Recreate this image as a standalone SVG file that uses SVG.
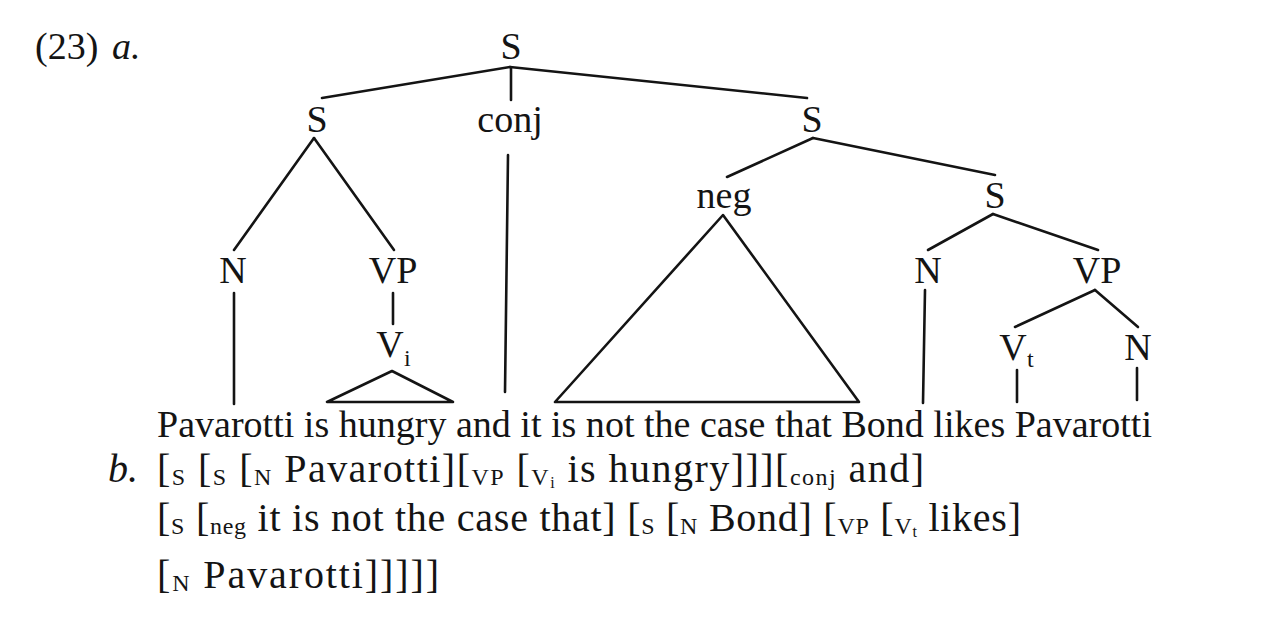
<svg xmlns="http://www.w3.org/2000/svg" width="1272" height="626" viewBox="0 0 1272 626">
<style>
text{font-family:"Liberation Serif","Times New Roman",serif;fill:#141414}
.lab{font-size:38px;text-anchor:middle}
.sen{font-size:38px}
.b{font-size:40px}
.sub{font-size:24px}
.ss{font-size:16px}
.it{font-style:italic}
.e{stroke:#141414;stroke-width:2.6;fill:none;stroke-linecap:round;stroke-linejoin:round}
</style>
<rect width="1272" height="626" fill="#ffffff"/>
<text class="lab" x="35" y="59" style="text-anchor:start">(23)</text>
<text class="lab it" x="112" y="59" style="text-anchor:start">a.</text>
<g id="connectors">
<line class="e" x1="510" y1="67" x2="322" y2="98"/>
<line class="e" x1="510" y1="67" x2="807" y2="98"/>
<line class="e" x1="511" y1="68" x2="511" y2="100"/>
<line class="e" x1="508" y1="155" x2="505" y2="392"/>
<line class="e" x1="314" y1="138" x2="234" y2="250"/>
<line class="e" x1="314" y1="138" x2="394" y2="250"/>
<line class="e" x1="234" y1="293" x2="234" y2="404"/>
<line class="e" x1="393" y1="293" x2="393" y2="324"/>
<polygon class="e" points="392,371 327,402 453,402"/>
<line class="e" x1="813" y1="138" x2="727" y2="177"/>
<line class="e" x1="813" y1="138" x2="995" y2="175"/>
<polygon class="e" points="723,215 555,402 859,402"/>
<line class="e" x1="993" y1="214" x2="928" y2="250"/>
<line class="e" x1="993" y1="214" x2="1098" y2="250"/>
<line class="e" x1="925" y1="290" x2="923" y2="403"/>
<line class="e" x1="1095" y1="290" x2="1015" y2="327"/>
<line class="e" x1="1095" y1="290" x2="1138" y2="327"/>
<line class="e" x1="1017" y1="370" x2="1017" y2="402"/>
<line class="e" x1="1137" y1="368" x2="1137" y2="400"/>
</g>
<g id="n-S-top"><text class="lab" x="511" y="59">S</text></g>
<g id="n-S-left"><text class="lab" x="317" y="132">S</text></g>
<g id="n-conj"><text class="lab" x="510" y="132">conj</text></g>
<g id="n-S-right"><text class="lab" x="812" y="132">S</text></g>
<g id="n-N1"><text class="lab" x="233" y="283">N</text></g>
<g id="n-VP1"><text class="lab" x="393" y="283">VP</text></g>
<g id="n-Vi"><text class="lab" x="390" y="357">V</text><text class="sub" x="404" y="366">i</text></g>
<g id="n-neg"><text class="lab" x="724" y="208">neg</text></g>
<g id="n-S-low"><text class="lab" x="995" y="208">S</text></g>
<g id="n-N2"><text class="lab" x="928" y="283">N</text></g>
<g id="n-VP2"><text class="lab" x="1097" y="283">VP</text></g>
<g id="n-Vt"><text class="lab" x="1013" y="360">V</text><text class="sub" x="1027" y="367">t</text></g>
<g id="n-N3"><text class="lab" x="1138" y="360">N</text></g>
<text class="sen" x="157" y="437" textLength="995" lengthAdjust="spacing">Pavarotti is hungry and it is not the case that Bond likes Pavarotti</text>
<text class="b it" x="108" y="482">b.</text>
<text class="b" x="157" y="482" textLength="767" lengthAdjust="spacing">[<tspan class="sub" dy="3">S</tspan><tspan dy="-3"> [</tspan><tspan class="sub" dy="3">S</tspan><tspan dy="-3"> [</tspan><tspan class="sub" dy="3">N</tspan><tspan dy="-3"> Pavarotti][</tspan><tspan class="sub" dy="3">VP</tspan><tspan dy="-3"> [</tspan><tspan class="sub" dy="3">V</tspan><tspan class="ss" dy="3">i</tspan><tspan dy="-6"> is hungry]]][</tspan><tspan class="sub" dy="3">conj</tspan><tspan dy="-3"> and]</tspan></text>
<text class="b" x="157" y="531" textLength="864" lengthAdjust="spacing">[<tspan class="sub" dy="3">S</tspan><tspan dy="-3"> [</tspan><tspan class="sub" dy="3">neg</tspan><tspan dy="-3"> it is not the case that] [</tspan><tspan class="sub" dy="3">S</tspan><tspan dy="-3"> [</tspan><tspan class="sub" dy="3">N</tspan><tspan dy="-3"> Bond] [</tspan><tspan class="sub" dy="3">VP</tspan><tspan dy="-3"> [</tspan><tspan class="sub" dy="3">V</tspan><tspan class="ss" dy="3">t</tspan><tspan dy="-6"> likes]</tspan></text>
<text class="b" x="157" y="588" textLength="282" lengthAdjust="spacing">[<tspan class="sub" dy="3">N</tspan><tspan dy="-3"> Pavarotti]]]]]</tspan></text>
</svg>
